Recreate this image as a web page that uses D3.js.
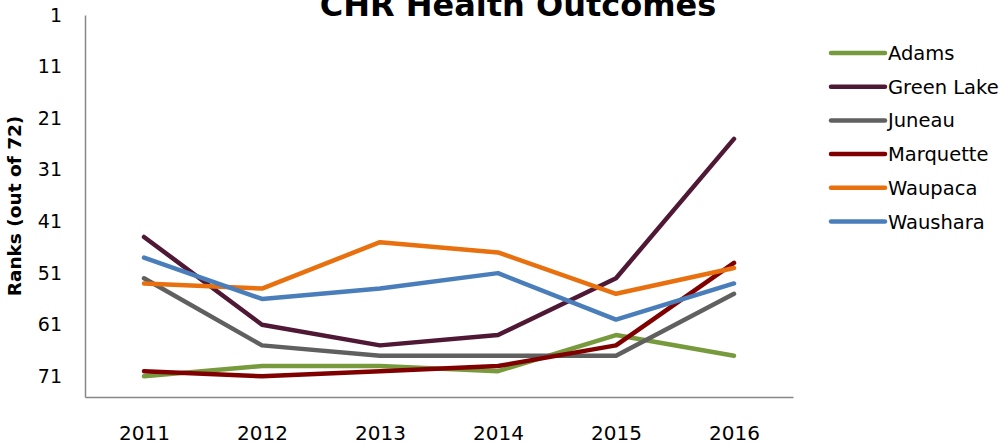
<!DOCTYPE html>
<html>
<head>
<meta charset="utf-8">
<script src="https://cdn.jsdelivr.net/npm/d3@7"></script>
<style>
  body { margin: 0; background: #fff; }
  text { font-family: "DejaVu Sans", sans-serif; fill: #000; }
</style>
</head>
<body>
<div id="chart"></div>
<script>
// years on the x axis
const years = ["2011", "2012", "2013", "2014", "2015", "2016"];
// rank ticks (reversed axis, 1 at top)
const rankTicks = [1, 11, 21, 31, 41, 51, 61, 71];

const counties = ["Adams", "Green Lake", "Juneau", "Marquette", "Waupaca", "Waushara"];
const colors = ["#779a3c", "#4f1835", "#606060", "#800000", "#e8700f", "#4a7ebb"];

// ranks, one per year
const adams     = [71, 69, 69, 70, 63, 67];
const greenLake = [44, 61, 65, 63, 52, 25];
const juneau    = [52, 65, 67, 67, 67, 55];
const marquette = [70, 71, 70, 69, 65, 49];
const waupaca   = [53, 54, 45, 47, 55, 50];
const waushara  = [48, 56, 54, 51, 60, 53];

const seriesValues = [adams, greenLake, juneau, marquette, waupaca, waushara];

const width = 1005, height = 445;

const svg = d3.select("#chart")
    .append("svg")
    .attr("width", width)
    .attr("height", height);

const x = d3.scalePoint().domain(years).range([85, 793]).padding(0.5);
const y = d3.scaleLinear().domain([1, 75]).range([15, 397]);

// title, cut at the top like the original
svg.append("text")
    .attr("x", 518)
    .attr("y", 16)
    .attr("text-anchor", "middle")
    .style("font-size", "32px")
    .style("font-weight", "bold")
    .text("CHR Health Outcomes");

// y axis
const yAxis = svg.append("g")
    .attr("transform", "translate(85,0)")
    .call(d3.axisLeft(y).tickValues(rankTicks).tickSize(0).tickSizeOuter(0).tickPadding(23));
yAxis.selectAll("text").style("font-size", "19px").style("font-family", "DejaVu Sans, sans-serif");

// x axis
const xAxis = svg.append("g")
    .attr("transform", "translate(0,397)")
    .call(d3.axisBottom(x).tickSize(0).tickSizeOuter(0).tickPadding(29));
xAxis.selectAll("text").style("font-size", "20px").style("font-family", "DejaVu Sans, sans-serif");

svg.selectAll(".domain")
    .attr("stroke", "#878787")
    .attr("stroke-width", 1.5);

svg.append("text")
    .attr("transform", "translate(20.5,206) rotate(-90)")
    .attr("text-anchor", "middle")
    .style("font-size", "18.5px")
    .style("font-weight", "bold")
    .text("Ranks  (out of 72)");

const line = d3.line()
    .x((d, i) => x(years[i]))
    .y(d => y(d));

svg.selectAll(".series")
    .data(seriesValues)
    .enter().append("path")
    .attr("class", "series")
    .attr("d", d => line(d))
    .attr("fill", "none")
    .attr("stroke", (d, i) => colors[i])
    .attr("stroke-width", 4.5)
    .attr("stroke-linejoin", "round")
    .attr("stroke-linecap", "round");

// legend
const legend = svg.selectAll(".legend")
    .data(counties)
    .enter().append("g")
    .attr("class", "legend")
    .attr("transform", (d, i) => "translate(0," + (53 + i * 33.7) + ")");

legend.append("line")
    .attr("x1", 831)
    .attr("x2", 885)
    .attr("stroke", (d, i) => colors[i])
    .attr("stroke-width", 4.5)
    .attr("stroke-linecap", "round");

legend.append("text")
    .attr("x", 888)
    .attr("dy", "0.36em")
    .style("font-size", "19.5px")
    .text(d => d);
</script>
</body>
</html>
